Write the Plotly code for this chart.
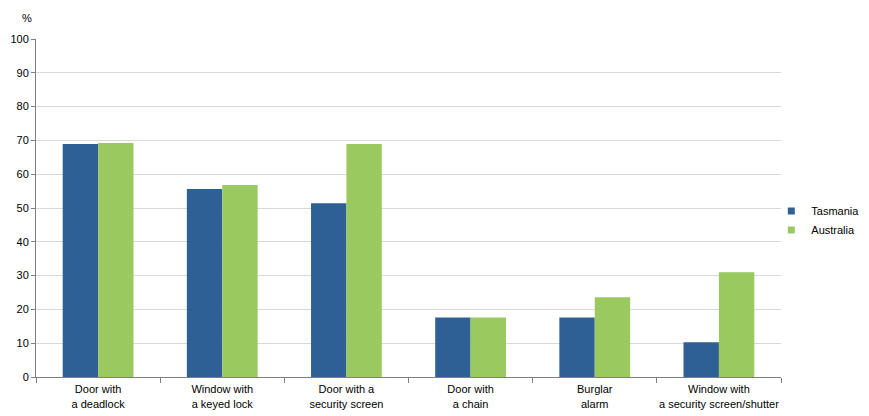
import plotly.graph_objects as go

categories = ["Door with<br>a deadlock", "Window with<br>a keyed lock", "Door with a<br>security screen",
              "Door with<br>a chain", "Burglar<br>alarm", "Window with<br>a security screen/shutter"]
tasmania = [68.9, 55.6, 51.4, 17.6, 17.6, 10.3]
australia = [69.2, 56.8, 68.9, 17.6, 23.6, 31.0]
series_names = ["Tasmania", "Australia"]
colors = ["#2e6096", "#99c95f"]

fig = go.Figure()
for name, vals, col in zip(series_names, [tasmania, australia], colors):
    fig.add_trace(go.Bar(name=name, x=categories, y=vals, marker_color=col,
                         marker_line_width=0, showlegend=False))
for name, col in zip(series_names, colors):
    fig.add_trace(go.Scatter(name=name, x=[None], y=[None], mode="markers",
                             marker=dict(symbol="square", size=7, color=col)))

font = dict(family="Liberation Sans, Arial, sans-serif", size=11, color="#000000")
fig.update_layout(
    width=861, height=408,
    margin=dict(l=28, r=88, t=31, b=39, autoexpand=False),
    paper_bgcolor="white", plot_bgcolor="white",
    barmode="group", bargap=0.43, bargroupgap=0,
    font=font,
    showlegend=True,
    legend=dict(x=0.987, y=0.534, xanchor="left", yanchor="top", font=font,
                bgcolor="rgba(0,0,0,0)", tracegroupgap=0, itemwidth=30),
    xaxis=dict(showline=True, linecolor="#808080", linewidth=1, ticks="outside",
               tickson="boundaries", ticklen=5, tickcolor="#808080", showgrid=False,
               tickfont=font, tickangle=0, automargin=False, ticklabelstandoff=2),
    yaxis=dict(range=[0, 100], dtick=10, showline=True, linecolor="#808080", linewidth=1,
               ticks="outside", ticklen=4, tickcolor="#808080", gridcolor="#d9d9d9",
               gridwidth=1, tickfont=font, zeroline=False, automargin=False),
    annotations=[dict(text="%", x=(27 - 36) / 745, y=(377 - 18) / 338, xref="paper", yref="paper",
                      showarrow=False, xanchor="center", yanchor="middle", font=font)],
)
fig.write_html("out.html")
